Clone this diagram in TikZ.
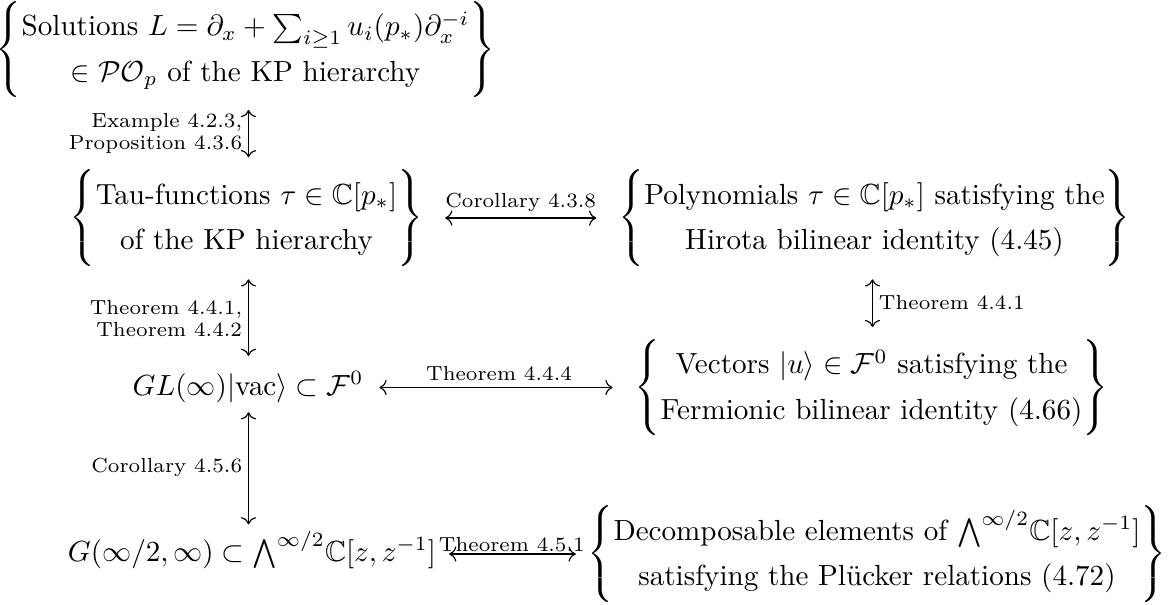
\documentclass[tikz,border=0pt]{standalone}
\usepackage{amsmath,amssymb,graphicx}
\usetikzlibrary{arrows.meta}
\def\arraystretch{1.3}
\delimiterfactor=1000
\delimitershortfall=0pt
\nulldelimiterspace=0pt
\tikzset{
  bi/.style={{Computer Modern Rightarrow}-{Computer Modern Rightarrow}, line width=0.4pt},
  lab/.style={font=\scriptsize, inner sep=2pt},
  obj/.style={inner sep=0pt, outer sep=0pt},
}
\newcommand{\lbr}{\vcenter{\hbox{\scalebox{1}[0.92]{$\left\{\rule[-13.25pt]{0pt}{31.5pt}\right.$}}}}
\newcommand{\rbr}{\vcenter{\hbox{\scalebox{1}[0.92]{$\left.\rule[-13.25pt]{0pt}{31.5pt}\right\}$}}}}
\newcommand{\setof}[2]{$\lbr\begin{matrix}\text{#1}\\ \text{#2}\end{matrix}\rbr$}
\newcommand{\wedgeinf}{\mathord{\bigwedge}^{\infty/2}}
\begin{document}
\begin{tikzpicture}[x=0.3436pt, y=-0.3436pt]
\useasboundingbox (0,0) rectangle (1173,604);
\coordinate (col1) at (248.5,0);
\coordinate (col2) at (872.5,0);
\node[obj] (A) at (245.5,49.5) {\setof{Solutions $L=\partial_x+\sum_{i\geq1}u_i(p_*)\partial_x^{-i}$}{$\in\mathcal{P}\mathcal{O}_p$ of the KP hierarchy}};
\node[obj] (B) at (246.5,218) {\setof{Tau-functions $\tau\in\mathbb{C}[p_*]$}{of the KP hierarchy}};
\node[obj] (C) at (874.5,218) {\setof{Polynomials $\tau\in\mathbb{C}[p_*]$ satisfying the}{Hirota bilinear identity (4.45)}};
\node[obj, anchor=base] (D) at (248,395.3) {$GL(\infty)|\mathrm{vac}\rangle\subset\mathcal{F}^0$};
\node[obj] (E) at (871.5,387.5) {\setof{Vectors $|u\rangle\in\mathcal{F}^0$ satisfying the}{Fermionic bilinear identity (4.66)}};
\node[obj, anchor=base] (F) at (252,561.3) {$G(\infty/2,\infty)\subset\wedgeinf\mathbb{C}[z,z^{-1}]$};
\node[obj] (G) at (877,554) {\setof{Decomposable elements of $\wedgeinf\mathbb{C}[z,z^{-1}]$}{satisfying the Pl\"ucker relations (4.72)}};

\draw[bi, shorten <=4.2pt, shorten >=4.3pt] (A.south -| col1) -- (B.north -| col1)
  node[midway, left, lab, align=right] {Example 4.2.3,\\[-0.5pt]Proposition 4.3.6};
\draw[bi, shorten <=7.6pt, shorten >=7.6pt] (B.east) -- (C.west)
  node[midway, above, lab] {Corollary 4.3.8};
\draw[bi, shorten <=4.5pt, shorten >=5.4pt] (B.south -| col1) -- (D.north -| col1)
  node[midway, left, lab, align=right] {Theorem 4.4.1,\\[-0.5pt]Theorem 4.4.2};
\draw[bi, shorten <=4.5pt, shorten >=4.2pt] (C.south -| col2) -- (E.north -| col2)
  node[midway, right, lab] {Theorem 4.4.1};
\draw[bi, shorten <=5.5pt, shorten >=7.6pt] (D.east |- E.west) -- (E.west)
  node[midway, above, lab] {Theorem 4.4.4};
\draw[bi, shorten <=3.3pt, shorten >=2.4pt] (D.south -| col1) -- (F.north -| col1)
  node[midway, left, lab] {Corollary 4.5.6};
\draw[bi, shorten <=4.5pt, shorten >=4.1pt] (F.east |- G.west) -- (G.west)
  node[midway, above, lab, inner sep=0.5pt] {Theorem 4.5.1};
\end{tikzpicture}
\end{document}
